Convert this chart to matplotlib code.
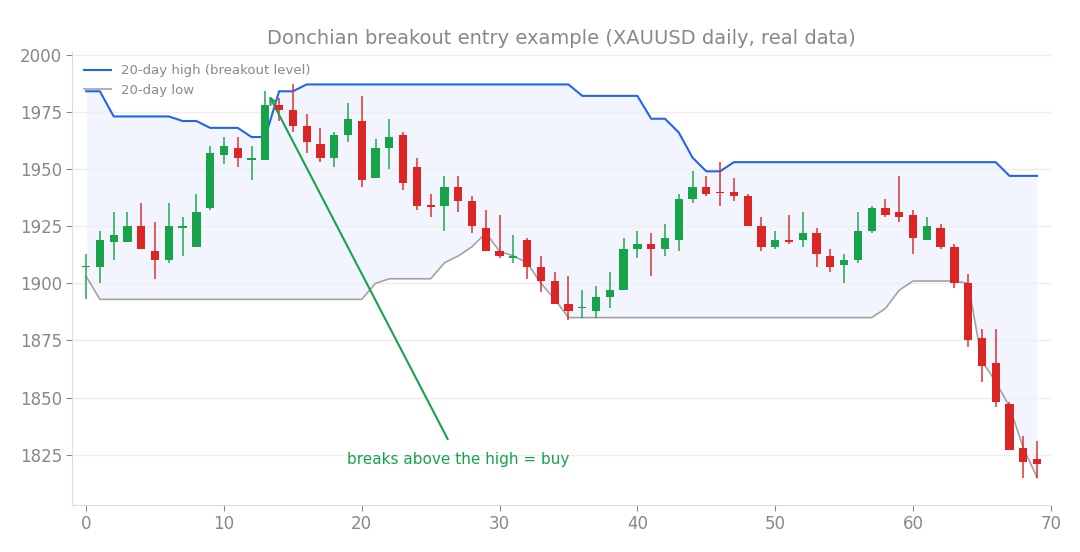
import matplotlib
matplotlib.use("Agg")
import matplotlib.pyplot as plt
import numpy as np

opens  = [1907,1907,1918,1918,1925,1914,1910,1924,1916,1933,1956,1959,1954,1954,1978,1976,1969,1961,1955,1965,
          1971,1946,1959,1965,1951,1934,1934,1942,1936,1924,1914,1911,1919,1907,1901,1891,1889,1888,1894,1897,
          1915,1917,1915,1919,1937,1942,1940,1940,1938,1925,1916,1919,1919,1922,1912,1908,1910,1923,1933,1931,
          1930,1919,1924,1916,1900,1876,1865,1847,1828,1823]
closes = [1907.5,1919,1921,1925,1915,1910,1925,1925,1931,1957,1960,1955,1955,1978,1976,1969,1962,1955,1965,1972,
          1945,1959,1964,1944,1934,1933.5,1942,1936,1925,1914,1912,1912,1907,1901,1891,1888,1889.5,1894,1897,1915,
          1917,1915,1920,1937,1942,1939,1939.5,1938,1925,1916,1919,1918,1922,1913,1907,1910,1923,1933,1930,1929,
          1920,1925,1916,1900,1875,1864,1848,1827,1822,1821]
highs  = [1913,1923,1931,1931,1935,1927,1935,1929,1939,1960,1964,1964,1960,1984,1981,1987,1974,1968,1966,1979,
          1982,1963,1972,1966,1955,1939,1947,1947,1938,1932,1930,1921,1920,1912,1905,1903,1897,1899,1905,1920,
          1923,1922,1926,1939,1949,1947,1953,1946,1939,1929,1923,1930,1931,1924,1915,1913,1931,1934,1937,1947,
          1932,1929,1926,1917,1904,1880,1880,1848,1833,1831]
lows   = [1893,1900,1910,1918,1915,1902,1909,1912,1916,1932,1952,1951,1945,1954,1971,1966,1957,1953,1951,1962,
          1942,1946,1950,1941,1932,1929,1923,1931,1922,1914,1911,1909,1902,1896,1891,1884,1885,1885,1889,1897,
          1911,1903,1912,1914,1935,1938,1934,1936,1925,1914,1915,1917,1916,1907,1905,1900,1909,1922,1929,1927,
          1913,1919,1915,1898,1872,1857,1846,1827,1815,1815]
high20 = [1984,1984,1973,1973,1973,1973,1973,1971,1971,1968,1968,1968,1964,1964,1984,1984,1987,1987,1987,1987,
          1987,1987,1987,1987,1987,1987,1987,1987,1987,1987,1987,1987,1987,1987,1987,1987,1982,1982,1982,1982,
          1982,1972,1972,1966,1955,1949,1949,1953,1953,1953,1953,1953,1953,1953,1953,1953,1953,1953,1953,1953,
          1953,1953,1953,1953,1953,1953,1953,1947,1947,1947]
low20  = [1903,1893,1893,1893,1893,1893,1893,1893,1893,1893,1893,1893,1893,1893,1893,1893,1893,1893,1893,1893,
          1893,1900,1902,1902,1902,1902,1909,1912,1916,1922,1914,1912,1909,1900,1893,1885,1885,1885,1885,1885,
          1885,1885,1885,1885,1885,1885,1885,1885,1885,1885,1885,1885,1885,1885,1885,1885,1885,1885,1889,1897,
          1901,1901,1901,1901,1900,1866,1857,1846,1828,1815]

x = np.arange(len(opens))
GREEN, RED = "#16a34a", "#dc2626"

fig, ax = plt.subplots(figsize=(10.8, 5.52), dpi=100)
fig.subplots_adjust(left=0.067, right=0.973, top=0.905, bottom=0.085)

ax.fill_between(x, low20, high20, color="#dbe5fb", alpha=0.35, lw=0, zorder=0)
ax.plot(x, high20, color="#2563eb", lw=1.5, label="20-day high (breakout level)", zorder=2)
ax.plot(x, low20, color="#a3a3a3", lw=1.2, label="20-day low", zorder=2)

for i in x:
    o, c, h, l = opens[i], closes[i], highs[i], lows[i]
    col = GREEN if c >= o else RED
    ax.vlines(i, l, h, color=col, lw=1.3, alpha=0.8, zorder=3)
    bot, top = min(o, c), max(o, c)
    ax.bar(i, max(top - bot, 0.6), bottom=bot, width=0.6, color=col, zorder=4)

ax.annotate("breaks above the high = buy", xy=(13.2, 1983), xytext=(27, 1823),
            color=GREEN, fontsize=11, ha="center", va="center",
            arrowprops=dict(arrowstyle="->", color=GREEN, lw=1.5, shrinkA=8))

ax.set_xlim(-1, 70)
ax.set_ylim(1803, 2001)
ax.set_xticks([0, 10, 20, 30, 40, 50, 60, 70])
ax.set_yticks([1825, 1850, 1875, 1900, 1925, 1950, 1975, 2000])
ax.tick_params(colors="#888888", labelsize=12, length=4)
ax.grid(axis="y", color="#eeeeee", lw=1)
ax.set_axisbelow(True)
for s in ["top", "right"]:
    ax.spines[s].set_visible(False)
for s in ["left", "bottom"]:
    ax.spines[s].set_color("#dddddd")
ax.set_title("Donchian breakout entry example (XAUUSD daily, real data)", color="#888888", fontsize=14)
leg = ax.legend(loc="upper left", frameon=False, fontsize=9.5, labelcolor="#888888")
fig.savefig("out.png")
